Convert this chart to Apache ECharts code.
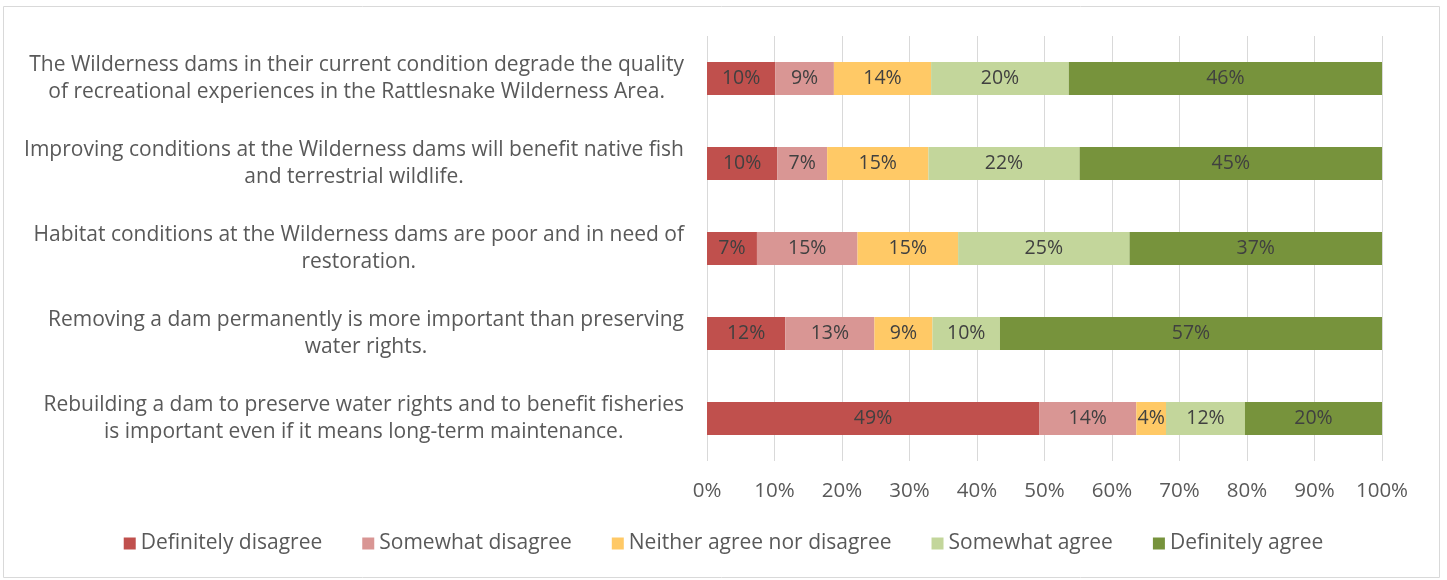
<!DOCTYPE html>
<html>
<head>
<meta charset="utf-8">
<script src="https://cdn.jsdelivr.net/npm/echarts@6/dist/echarts.min.js"></script>
<style>
html,body{margin:0;padding:0;background:#fff;}
#main{width:1447px;height:580px;}
</style>
</head>
<body>
<div id="main"></div>
<script>
// statements (top to bottom), already wrapped like the original
var categories = [
    'The Wilderness dams in their current condition degrade the quality\nof recreational experiences in the Rattlesnake Wilderness Area.',
    'Improving conditions at the Wilderness dams will benefit native fish\nand terrestrial wildlife.',
    'Habitat conditions at the Wilderness dams are poor and in need of\nrestoration.',
    'Removing a dam permanently is more important than preserving\nwater rights.',
    'Rebuilding a dam to preserve water rights and to benefit fisheries\nis important even if it means long-term maintenance.'
];
var seriesNames = ['Definitely disagree', 'Somewhat disagree', 'Neither agree nor disagree', 'Somewhat agree', 'Definitely agree'];
var definitelyDisagree = [10.1, 10.4, 7.4, 11.6, 49.2];
var somewhatDisagree   = [8.7, 7.4, 14.9, 13.2, 14.4];
var neither            = [14.4, 15.0, 14.9, 8.6, 4.4];
var somewhatAgree      = [20.4, 22.4, 25.4, 10.0, 11.7];
var definitelyAgree    = [46.4, 44.8, 37.4, 56.6, 20.3];
var xTicks = [0, 10, 20, 30, 40, 50, 60, 70, 80, 90, 100];
var colors = ['#C0504D', '#D99694', '#FFC966', '#C3D69B', '#77933C'];

var myChart = echarts.init(document.getElementById('main'));
var font = 'Open Sans';
var allData = [definitelyDisagree, somewhatDisagree, neither, somewhatAgree, definitelyAgree];

var series = [];
for (var i = 0; i < allData.length; i++) {
    series.push({
        name: seriesNames[i],
        type: 'bar',
        stack: 'total',
        barWidth: '39%',
        itemStyle: {color: colors[i]},
        label: {
            show: true,
            position: 'inside',
            color: '#404040',
            fontFamily: font,
            fontSize: 19.5,
            formatter: function (p) { return Math.round(p.value) + '%'; }
        },
        data: allData[i]
    });
}

var option = {
    animation: false,
    textStyle: {fontFamily: font},
    graphic: [{
        type: 'rect',
        shape: {x: 3.5, y: 6.5, width: 1436, height: 571},
        style: {fill: 'none', stroke: '#d9d9d9', lineWidth: 1},
        silent: true
    }],
    grid: {left: 707, right: 65, top: 36, height: 425},
    legend: {
        bottom: 21,
        left: 'center',
        icon: 'rect',
        itemWidth: 12,
        itemHeight: 12,
        itemGap: 40,
        textStyle: {color: '#595959', fontSize: 21, fontFamily: font},
        data: seriesNames
    },
    xAxis: {
        type: 'value',
        min: 0,
        max: 100,
        interval: 10,
        axisLine: {show: false},
        axisTick: {show: false},
        axisLabel: {
            color: '#595959',
            fontSize: 20.5,
            fontFamily: font,
            margin: 20,
            formatter: function (v) { return xTicks.indexOf(v) >= 0 ? v + '%' : ''; }
        },
        splitLine: {lineStyle: {color: '#d9d9d9', width: 1}}
    },
    yAxis: {
        type: 'category',
        inverse: true,
        data: categories,
        axisLine: {show: false},
        axisTick: {show: false},
        axisLabel: {
            margin: 23,
            formatter: function (v) {
                return v.split('\n').map(function (s) { return '{a|' + s + '}'; }).join('\n');
            },
            rich: {
                a: {align: 'center', color: '#595959', fontSize: 21, fontFamily: font, lineHeight: 27}
            }
        }
    },
    series: series
};
myChart.setOption(option);
</script>
</body>
</html>
